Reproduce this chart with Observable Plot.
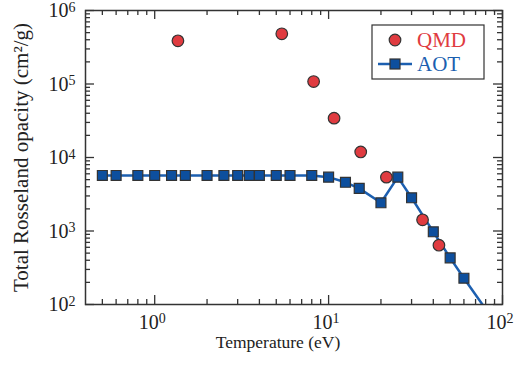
<!DOCTYPE html>
<html>
<head>
<meta charset="utf-8">
<script src="https://cdn.jsdelivr.net/npm/d3@7"></script>
<script src="https://cdn.jsdelivr.net/npm/@observablehq/plot@0.6"></script>
<style>
  html, body { margin: 0; padding: 0; background: #fff; }
  svg { display: block; }
</style>
</head>
<body>
<div id="chart"></div>
<script>
// AOT model (squares joined by line)
const aotT = [0.5, 0.6, 0.8, 1, 1.25, 1.5, 2, 2.5, 3, 3.5, 4, 5, 6, 8, 10, 12.5, 15, 20, 25, 30, 40, 50, 60, 100];
const aotK = [5700, 5700, 5700, 5700, 5700, 5700, 5700, 5700, 5700, 5700, 5700, 5700, 5700, 5700, 5400, 4600, 3800, 2420, 5400, 2830, 975, 431, 228, 41];
// QMD (circles)
const qmdT = [1.36, 5.38, 8.2, 10.75, 15.3, 21.5, 34.7, 43.1];
const qmdK = [387000, 482000, 108000, 34300, 11900, 5400, 1420, 641];

// tick values and labels
const xMajor = [1, 10, 100];
const xExp = ["0", "1", "2"];
const xMinor = [0.5, 0.6, 0.7, 0.8, 0.9, 2, 3, 4, 5, 6, 7, 8, 9, 20, 30, 40, 50, 60, 70, 80, 90];
const yMajor = [1e2, 1e3, 1e4, 1e5, 1e6];
const yExp = ["2", "3", "4", "5", "6"];
const yMinor = [];
for (const d of [1e2, 1e3, 1e4, 1e5]) for (let k = 2; k <= 9; k++) yMinor.push(k * d);

const aot = aotT.map((t, i) => ({T: t, K: aotK[i]}));
const qmd = qmdT.map((t, i) => ({T: t, K: qmdK[i]}));
const xLab = xMajor.map((v, i) => ({v, e: xExp[i]}));
const yLab = yMajor.map((v, i) => ({v, e: yExp[i]}));

const W = 515, H = 373, mL = 85, mR = 13, mT = 10, mB = 69;
const iW = W - mL - mR, iH = H - mT - mB;
const tickCol = "#333", majL = 9, minL = 5, tw = 1.3;
const txtCol = "#222";
const blue = "#1c5fb0", blueFill = "#0d4f9e", red = "#e03b40";

const chart = Plot.plot({
  width: W, height: H,
  marginLeft: mL, marginRight: mR, marginTop: mT, marginBottom: mB,
  style: {fontFamily: "Liberation Serif", background: "#fff"},
  x: {type: "log", domain: [0.4, 100], axis: null},
  y: {type: "log", domain: [100, 1e6], axis: null},
  marks: [
    // ticks (inward, all four sides)
    Plot.tickX(xMajor, {x: d => d, insetTop: iH - majL, stroke: tickCol, strokeWidth: tw}),
    Plot.tickX(xMajor, {x: d => d, insetBottom: iH - majL, stroke: tickCol, strokeWidth: tw}),
    Plot.tickX(xMinor, {x: d => d, insetTop: iH - minL, stroke: tickCol, strokeWidth: tw}),
    Plot.tickX(xMinor, {x: d => d, insetBottom: iH - minL, stroke: tickCol, strokeWidth: tw}),
    Plot.tickY(yMajor, {y: d => d, insetRight: iW - majL, stroke: tickCol, strokeWidth: tw}),
    Plot.tickY(yMajor, {y: d => d, insetLeft: iW - majL, stroke: tickCol, strokeWidth: tw}),
    Plot.tickY(yMinor, {y: d => d, insetRight: iW - minL, stroke: tickCol, strokeWidth: tw}),
    Plot.tickY(yMinor, {y: d => d, insetLeft: iW - minL, stroke: tickCol, strokeWidth: tw}),
    // data
    Plot.line(aot, {x: "T", y: "K", stroke: blue, strokeWidth: 2.5, clip: true}),
    Plot.dot(aot, {x: "T", y: "K", symbol: "square", r: 5.6, fill: blueFill, stroke: "#333", strokeWidth: 1.2, clip: true}),
    Plot.dot(qmd, {x: "T", y: "K", r: 5.8, fill: red, stroke: "#333", strokeWidth: 1.2, clip: true}),
    Plot.frame({stroke: tickCol, strokeWidth: 1.5}),
    // x tick labels 10^n
    Plot.text(xLab, {x: "v", text: () => "10", frameAnchor: "bottom", textAnchor: "end", lineAnchor: "bottom", dx: 4, dy: 24, fontSize: 20, fill: txtCol}),
    Plot.text(xLab, {x: "v", text: "e", frameAnchor: "bottom", textAnchor: "start", lineAnchor: "bottom", dx: 4, dy: 18, fontSize: 14, fill: txtCol}),
    // y tick labels 10^n
    Plot.text(yLab, {y: "v", text: () => "10", frameAnchor: "left", textAnchor: "end", lineAnchor: "bottom", dx: -17, dy: 6.5, fontSize: 20, fill: txtCol}),
    Plot.text(yLab, {y: "v", text: "e", frameAnchor: "left", textAnchor: "start", lineAnchor: "bottom", dx: -17, dy: 1, fontSize: 14, fill: txtCol}),
    // axis titles
    Plot.text(["Temperature (eV)"], {frameAnchor: "bottom", textAnchor: "middle", lineAnchor: "bottom", dx: -16, dy: 43, fontSize: 17.5, fill: txtCol}),
    Plot.text(["Total Rosseland opacity (cm²/g)"], {frameAnchor: "left", textAnchor: "middle", lineAnchor: "bottom", rotate: -90, dx: -58, dy: 0, fontSize: 21, fill: txtCol})
  ]
});

// legend
const svg = d3.select(chart);
const lg = svg.append("g").attr("font-family", "Liberation Serif").attr("text-anchor", "start");
lg.append("rect").attr("x", 372).attr("y", 25).attr("width", 112).attr("height", 54)
  .attr("fill", "#fff").attr("stroke", "#333").attr("stroke-width", 1.2);
lg.append("circle").attr("cx", 395).attr("cy", 40).attr("r", 5.8)
  .attr("fill", red).attr("stroke", "#333").attr("stroke-width", 1.2);
lg.append("text").attr("x", 417).attr("y", 47).attr("font-size", 21).attr("fill", red).text("QMD");
lg.append("line").attr("x1", 378).attr("x2", 412).attr("y1", 64).attr("y2", 64)
  .attr("stroke", blue).attr("stroke-width", 2.5);
lg.append("rect").attr("x", 390).attr("y", 59).attr("width", 10).attr("height", 10)
  .attr("fill", blueFill).attr("stroke", "#333").attr("stroke-width", 1.2);
lg.append("text").attr("x", 417).attr("y", 71).attr("font-size", 21).attr("fill", blue).text("AOT");

document.getElementById("chart").appendChild(chart);
</script>
</body>
</html>
